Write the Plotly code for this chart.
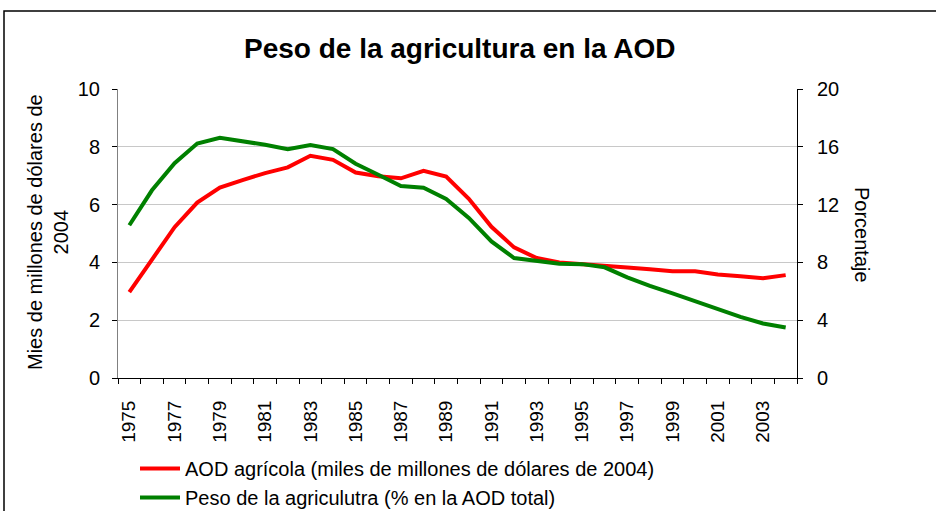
import plotly.graph_objects as go

years = list(range(1975, 2005))
aod_agricola = [2.97, 4.12, 5.22, 6.07, 6.59, 6.85, 7.09, 7.29, 7.69, 7.55,
                7.11, 6.98, 6.91, 7.17, 6.97, 6.20, 5.23, 4.52, 4.15, 4.00,
                3.95, 3.89, 3.82, 3.76, 3.69, 3.69, 3.58, 3.52, 3.45, 3.56]
peso_agricultura = [10.57, 12.99, 14.87, 16.23, 16.62, 16.39, 16.14, 15.84, 16.12, 15.84,
                    14.83, 14.07, 13.29, 13.17, 12.39, 11.08, 9.45, 8.30, 8.07, 7.91,
                    7.88, 7.66, 6.97, 6.37, 5.86, 5.31, 4.76, 4.23, 3.77, 3.50]
xtick_years = list(range(1975, 2005, 2))
left_ticks = [0, 2, 4, 6, 8, 10]
right_ticks = [0, 4, 8, 12, 16, 20]

FONT = "Liberation Sans, Arial, sans-serif"

fig = go.Figure()
fig.add_trace(go.Scatter(x=years, y=aod_agricola, mode="lines",
                         name="AOD agrícola (miles de millones de dólares de 2004)",
                         line=dict(color="#ff0000", width=4)))
fig.add_trace(go.Scatter(x=years, y=peso_agricultura, mode="lines", yaxis="y2",
                         name="Peso de la agriculutra (% en la AOD total)",
                         line=dict(color="#008000", width=4)))

W, H = 936, 511
L, R, T, B = 118, 797, 89, 378
pw, ph = R - L, B - T

def px(x):
    return (x - L) / pw

def py(y):
    return (B - y) / ph

fig.update_layout(
    width=W, height=H,
    margin=dict(l=L, r=W - R, t=T, b=H - B, autoexpand=False),
    paper_bgcolor="white", plot_bgcolor="white",
    font=dict(family=FONT, color="black", size=18),
    showlegend=True,
    legend=dict(x=px(135), y=py(449), xanchor="left", yanchor="top",
                orientation="v", font=dict(size=20, family=FONT),
                bgcolor="rgba(0,0,0,0)", tracegroupgap=0, itemwidth=40),
    xaxis=dict(range=[1974.5, 2004.5], tickvals=xtick_years,
               ticktext=[str(y) for y in xtick_years], tickangle=-90,
               ticks="", showgrid=False, showline=True, linecolor="black",
               linewidth=1, zeroline=False, ticklabelstandoff=14,
               tickfont=dict(size=19),
               minor=dict(tickvals=[y - 0.5 for y in years] + [2004.5],
                          ticks="outside", ticklen=5, tickcolor="black",
                          showgrid=False)),
    yaxis=dict(range=[0, 10], tickvals=left_ticks, ticks="outside", ticklen=5,
               tickcolor="black", showline=True, linecolor="#808080", linewidth=1,
               showgrid=True, gridcolor="#c8c8c8", gridwidth=1, zeroline=False,
               tickfont=dict(size=20), ticklabelstandoff=8),
    yaxis2=dict(range=[0, 20], tickvals=right_ticks, overlaying="y", side="right",
                ticks="outside", ticklen=5, tickcolor="black", showline=True,
                linecolor="black", linewidth=1, showgrid=False, zeroline=False,
                tickfont=dict(size=20), ticklabelstandoff=10),
    annotations=[
        dict(text="<b>Peso de la agricultura en la AOD</b>", x=px(460), y=py(48),
             xref="paper", yref="paper", showarrow=False, xanchor="center",
             yanchor="middle", font=dict(size=28, family=FONT)),
        dict(text="Mies de millones de dólares de<br>2004", x=px(48), y=py(232),
             xref="paper", yref="paper", showarrow=False, textangle=-90,
             xanchor="center", yanchor="middle", align="center",
             font=dict(size=20, family=FONT)),
        dict(text="Porcentaje", x=px(862), y=py(235), xref="paper", yref="paper",
             showarrow=False, textangle=90, xanchor="center", yanchor="middle",
             font=dict(size=20, family=FONT)),
    ],
    shapes=[
        dict(type="rect", xref="paper", yref="paper", x0=px(4), y0=py(530),
             x1=px(960), y1=py(11), line=dict(color="black", width=1.5),
             fillcolor="rgba(0,0,0,0)", layer="below"),
    ],
)

fig.write_html("out.html", config={"displayModeBar": False},
               post_script="document.body.style.margin='0';document.body.style.overflow='hidden';")
